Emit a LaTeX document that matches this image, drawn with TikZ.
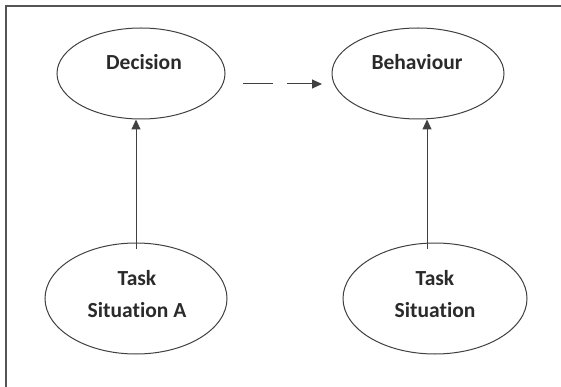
\documentclass[tikz,border=0pt]{standalone}
\usepackage{fontspec}
\setmainfont{Carlito}[Ligatures={NoCommon}]
\usetikzlibrary{shapes.geometric,arrows.meta}
\definecolor{linec}{HTML}{404040}
\definecolor{textc}{HTML}{2A2A2A}
\definecolor{framec}{HTML}{555555}
\tikzset{
  ell/.style={draw=linec, line width=1pt, ellipse, inner sep=0pt},
  lbl/.style={text=textc, font=\fontsize{21.5}{32}\selectfont\bfseries, inner sep=0pt, align=center},
  arr/.style={draw=linec, line width=1pt, -{Triangle[length=10pt,width=9pt]}},
  frameline/.style={draw=framec, line width=1.5pt}
}
\begin{document}
\begin{tikzpicture}[x=1pt,y=-1pt]
\useasboundingbox (0,0) rectangle (561,387);
\coordinate (f1) at (6,387);
\coordinate (f2) at (6,6);
\coordinate (f3) at (561,6);
\draw[frameline] (f1) -- (f2) -- (f3);

\node[ell, minimum width=168pt, minimum height=91pt] (dec) at (141,73.5) {};
\node[ell, minimum width=172pt, minimum height=91pt] (beh) at (418,73.5) {};
\node[ell, minimum width=182pt, minimum height=111pt] (tA) at (136,298.5) {};
\node[ell, minimum width=184pt, minimum height=111pt] (tB) at (435,298.5) {};

\node[lbl, anchor=base] (decT) at (144,70) {Decision};
\node[lbl, anchor=base] (behT) at (417,70) {Behaviour};
\node[lbl] (tAT) at (137,294) {Task\\Situation A};
\node[lbl] (tBT) at (435,294) {Task\\Situation};

\coordinate (s1) at (136,249);
\coordinate (s2) at (427,249);
\draw[arr] (s1) -- (s1 |- dec.south);
\draw[arr] (s2) -- (s2 |- beh.south);

\coordinate (d1) at (243,84);
\coordinate (d2) at (322,84);
\draw[arr, dash pattern=on 30pt off 14pt] (d1) -- (d2);
\end{tikzpicture}
\end{document}
